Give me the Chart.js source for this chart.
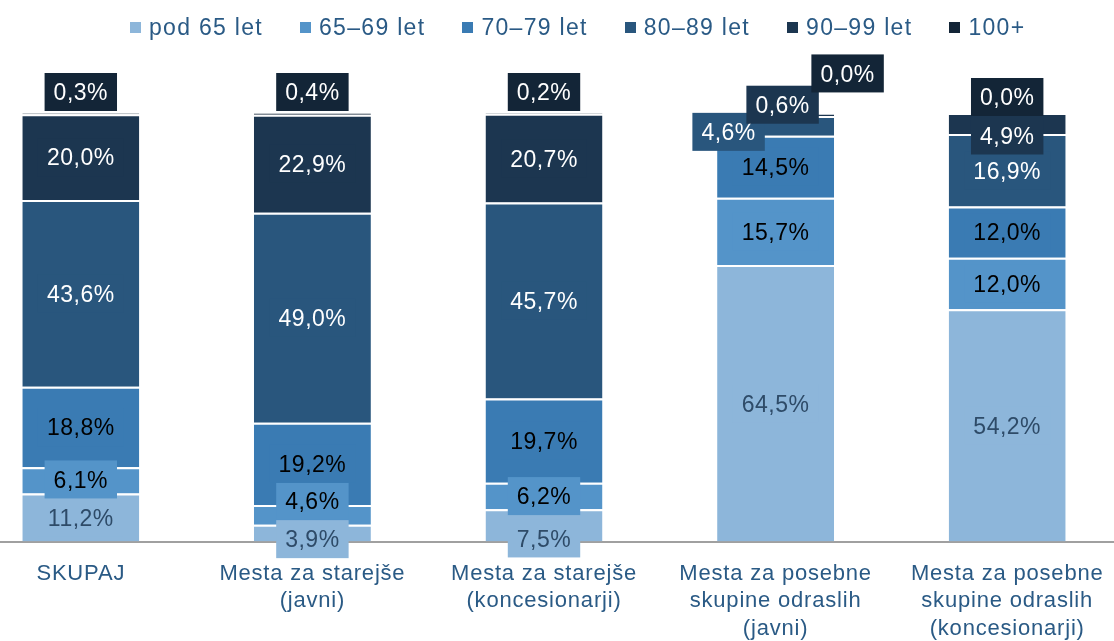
<!DOCTYPE html>
<html>
<head>
<meta charset="utf-8">
<script src="https://cdn.jsdelivr.net/npm/chart.js@4.4.1/dist/chart.umd.min.js"></script>
<style>
  html, body { margin: 0; padding: 0; background: #fff; overflow: hidden; width: 1114px; height: 641px; }
  #wrap { position: absolute; left: -40px; top: 0; width: 1170px; height: 641px; }
  #legend { position: absolute; left: 130px; top: 14px; display: flex; gap: 37px; line-height: 24px;
            font: 23px "Liberation Sans", Arial, sans-serif; letter-spacing: 1.3px; color: #2a5a85; white-space: nowrap; }
  #legend .item { display: flex; align-items: center; }
  #legend .sq { width: 11px; height: 11px; margin-right: 8px; }
</style>
</head>
<body>
<div id="wrap"><canvas id="chart" width="1170" height="641"></canvas></div>
<div id="legend"></div>
<script>
// categories (x axis, multi-line)
const categories = [
  ['SKUPAJ'],
  ['Mesta za starejše', '(javni)'],
  ['Mesta za starejše', '(koncesionarji)'],
  ['Mesta za posebne', 'skupine odraslih', '(javni)'],
  ['Mesta za posebne', 'skupine odraslih', '(koncesionarji)'],
];
const seriesNames = ['pod 65 let', '65–69 let', '70–79 let', '80–89 let', '90–99 let', '100+'];

// shares in %
const under65 = [11.2, 3.9, 7.5, 64.5, 54.2];
const age65to69 = [6.1, 4.6, 6.2, 15.7, 12.0];
const age70to79 = [18.8, 19.2, 19.7, 14.5, 12.0];
const age80to89 = [43.6, 49.0, 45.7, 4.6, 16.9];
const age90to99 = [20.0, 22.9, 20.7, 0.6, 4.9];
const age100plus = [0.3, 0.4, 0.2, 0.0, 0.0];

const seriesColors = ['#8db6da', '#5494c9', '#3a7bb3', '#29567d', '#1c3650', '#132537'];
const labelColors = ['#2e4b68', '#000000', '#000000', '#ffffff', '#ffffff', '#ffffff'];

// label nudges in px [dx, dy] per series per bar (where the original moved them)
const labelShift = [
  [[0, 0], [0, 6], [0, 13], [0, 0], [0, 0]],
  [[0, -1], [0, -14], [0, 0], [0, 0], [0, 0]],
  [[0, 0], [0, 0], [0, 0], [0, 0], [0, 0]],
  [[0, 0], [0, 0], [0, 0], [-47, 6], [0, 0]],
  [[0, 0], [0, 0], [0, 0], [7, -10], [0, 12]],
  [[0, 0], [0, 0], [0, 0], [72, -19], [0, 5]],
];

const allSeries = [under65, age65to69, age70to79, age80to89, age90to99, age100plus];

const fmt = v => v.toFixed(1).replace('.', ',') + '%';

const segLabels = {
  id: 'segLabels',
  afterDatasetsDraw(chart) {
    const ctx = chart.ctx;
    const last = chart.data.datasets.length - 1;
    ctx.save();
    ctx.font = '23px "Liberation Sans", Arial, sans-serif';
    ctx.letterSpacing = '0.5px';
    ctx.textAlign = 'center';
    ctx.textBaseline = 'middle';
    chart.data.datasets.forEach((ds, i) => {
      const meta = chart.getDatasetMeta(i);
      meta.data.forEach((bar, j) => {
        const sh = labelShift[i][j];
        const cx = bar.x + sh[0];
        const cy = (i === last ? bar.y - 21 : (bar.y + bar.base) / 2) + sh[1];
        const txt = fmt(ds.data[j]);
        const w = ctx.measureText(txt).width + 18;
        ctx.fillStyle = ds.backgroundColor;
        ctx.fillRect(cx - w / 2, cy - 19, w, 38);
        ctx.fillStyle = labelColors[i];
        ctx.fillText(txt, cx, cy + 2);
      });
    });
    ctx.restore();
  }
};

const spacing = {
  id: 'spacing',
  beforeDraw(chart) { chart.ctx.letterSpacing = '0.8px'; }
};

const chart = new Chart(document.getElementById('chart'), {
  type: 'bar',
  data: {
    labels: categories,
    datasets: allSeries.map((d, i) => ({
      label: seriesNames[i],
      data: d,
      backgroundColor: seriesColors[i],
      borderColor: '#ffffff',
      borderWidth: { top: 2, right: 0, bottom: 0, left: 0 },
      borderSkipped: false,
      barPercentage: 1,
      categoryPercentage: 0.505,
    }))
  },
  options: {
    responsive: false,
    devicePixelRatio: 1,
    animation: false,
    layout: { padding: { top: 113, left: 5, right: 7, bottom: 0 } },
    plugins: { legend: { display: false }, tooltip: { enabled: false } },
    scales: {
      x: {
        stacked: true,
        grid: { display: false, drawTicks: false },
        border: { display: true, color: '#a0a0a0', width: 2 },
        ticks: {
          color: '#2a5a85',
          padding: 18,
          maxRotation: 0,
          autoSkip: false,
          font: { family: '"Liberation Sans", Arial, sans-serif', size: 22, lineHeight: 1.27 }
        },
        afterFit: (scale) => { scale.height = 99.5; }
      },
      y: { stacked: true, display: false, min: 0, max: 100 }
    }
  },
  plugins: [spacing, segLabels]
});

// legend from the chart's datasets
const legendBox = document.getElementById('legend');
chart.data.datasets.forEach((ds) => {
  const item = document.createElement('span');
  item.className = 'item';
  const sq = document.createElement('span');
  sq.className = 'sq';
  sq.style.background = ds.backgroundColor;
  item.appendChild(sq);
  item.appendChild(document.createTextNode(ds.label));
  legendBox.appendChild(item);
});
</script>
</body>
</html>
